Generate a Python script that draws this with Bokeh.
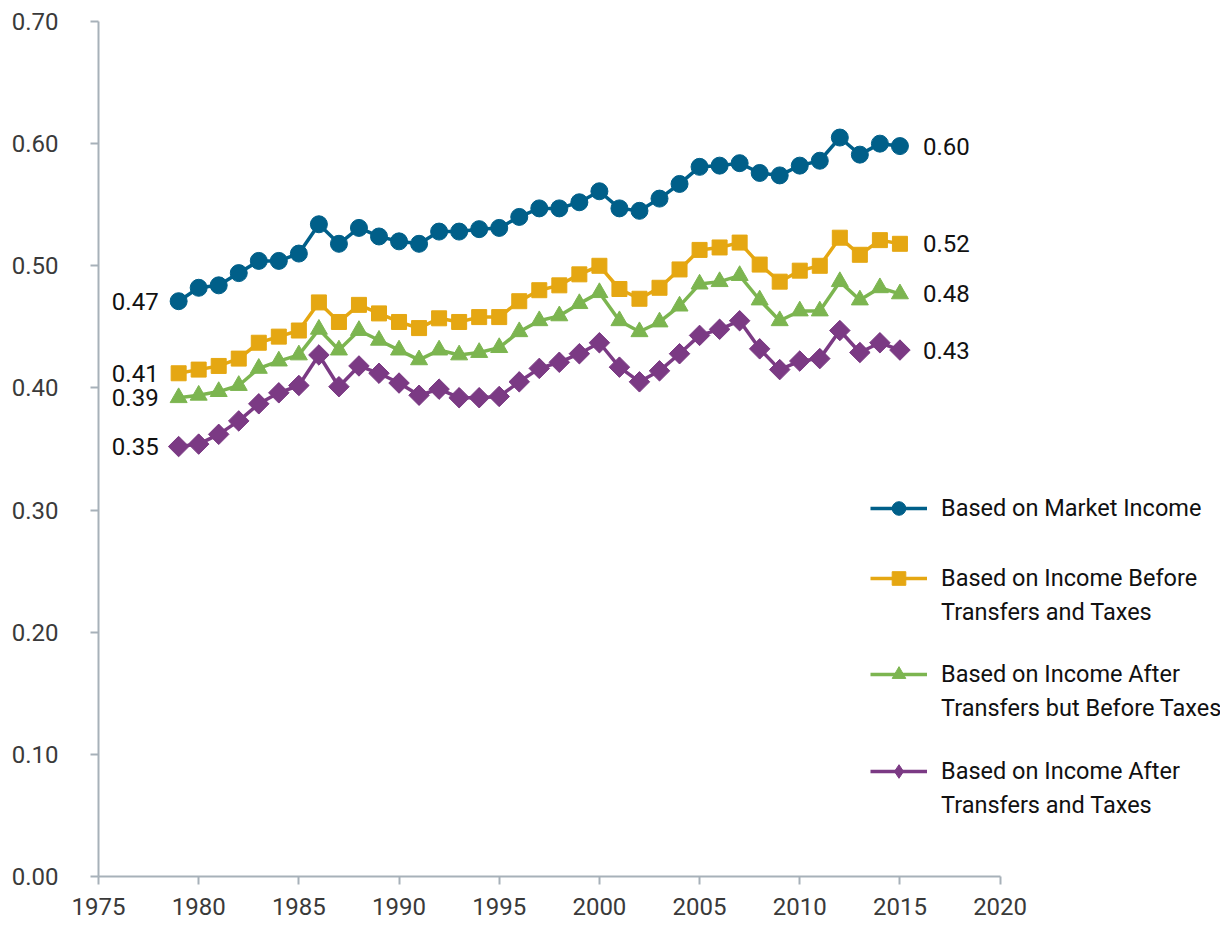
import numpy as np
from bokeh.plotting import figure
from bokeh.models import (Range1d, Legend, LegendItem, ColumnDataSource,
                          FixedTicker, NumeralTickFormatter)
from bokeh.core.properties import value
from bokeh.embed import file_html
from bokeh.resources import INLINE

years = list(range(1979, 2016))

market_income = [0.471, 0.482, 0.484, 0.494, 0.504, 0.504, 0.510, 0.534, 0.518, 0.531,
                 0.524, 0.520, 0.518, 0.528, 0.528, 0.530, 0.531, 0.540, 0.547, 0.547,
                 0.552, 0.561, 0.547, 0.545, 0.555, 0.567, 0.581, 0.582, 0.584, 0.576,
                 0.574, 0.582, 0.586, 0.605, 0.591, 0.600, 0.598]
before_transfers_taxes = [0.412, 0.415, 0.418, 0.424, 0.437, 0.442, 0.447, 0.470, 0.454, 0.468,
                          0.461, 0.454, 0.449, 0.457, 0.454, 0.458, 0.458, 0.471, 0.480, 0.484,
                          0.493, 0.500, 0.481, 0.473, 0.482, 0.497, 0.513, 0.515, 0.519, 0.501,
                          0.487, 0.496, 0.500, 0.523, 0.509, 0.521, 0.518]
after_transfers_before_taxes = [0.392, 0.394, 0.397, 0.402, 0.416, 0.422, 0.427, 0.448, 0.431, 0.447,
                                0.439, 0.431, 0.423, 0.431, 0.427, 0.429, 0.433, 0.446, 0.455, 0.459,
                                0.469, 0.478, 0.455, 0.446, 0.454, 0.467, 0.485, 0.487, 0.492, 0.472,
                                0.455, 0.463, 0.463, 0.487, 0.472, 0.482, 0.477]
after_transfers_taxes = [0.352, 0.354, 0.362, 0.373, 0.387, 0.396, 0.402, 0.427, 0.401, 0.418,
                         0.412, 0.404, 0.394, 0.399, 0.392, 0.392, 0.393, 0.405, 0.416, 0.421,
                         0.428, 0.437, 0.417, 0.405, 0.414, 0.428, 0.443, 0.448, 0.455, 0.432,
                         0.415, 0.422, 0.424, 0.447, 0.429, 0.437, 0.431]

series_names = [
    ("Based on Market Income", None),
    ("Based on Income Before", "Transfers and Taxes"),
    ("Based on Income After", "Transfers but Before Taxes"),
    ("Based on Income After", "Transfers and Taxes"),
]
x_ticks = [1975, 1980, 1985, 1990, 1995, 2000, 2005, 2010, 2015, 2020]
y_ticks = [0.0, 0.1, 0.2, 0.3, 0.4, 0.5, 0.6, 0.7]

colors = ["#005f89", "#e5a712", "#7cb550", "#7b3a84"]
markers = ["circle", "square", "triangle", "square"]
sizes = [17, 15, 17, 14.5]
angles = [0, 0, 0, np.pi / 4]

FONT = "Roboto"
AXIS_COLOR = "#a7b1b9"

p = figure(width=1228, height=926, output_backend="svg", toolbar_location=None,
           x_range=Range1d(1975, 2031), y_range=Range1d(0, 0.70),
           min_border_left=98, min_border_right=8, min_border_top=21, min_border_bottom=50)
p.outline_line_color = None
p.xgrid.visible = False
p.ygrid.visible = False
p.background_fill_color = "white"
p.border_fill_color = "white"

for ax in (p.xaxis[0], p.yaxis[0]):
    ax.axis_line_color = AXIS_COLOR
    ax.axis_line_width = 2
    ax.major_tick_line_color = AXIS_COLOR
    ax.major_tick_line_width = 2
    ax.major_tick_in = 0
    ax.major_tick_out = 8
    ax.minor_tick_line_color = None
    ax.major_label_text_font = FONT
    ax.major_label_text_font_size = "24px"
    ax.major_label_text_color = "#3a3a3a"

p.xaxis.ticker = FixedTicker(ticks=x_ticks)
p.xaxis.bounds = (1975, 2020)
p.xaxis.major_label_standoff = 13
p.yaxis.ticker = FixedTicker(ticks=y_ticks)
p.yaxis.formatter = NumeralTickFormatter(format="0.00")
p.yaxis.major_label_standoff = 32

all_series = [market_income, before_transfers_taxes, after_transfers_before_taxes, after_transfers_taxes]
legend_items_per_series = []
for vals, col, mk, sz, ang in zip(all_series, colors, markers, sizes, angles):
    src = ColumnDataSource(dict(x=years, y=vals))
    lr = p.line("x", "y", source=src, line_color=col, line_width=3.5)
    if ang:
        # diamond glyph (hidden beneath the rotated squares) that supplies the legend symbol
        leg_r = p.scatter("x", "y", source=src, marker="diamond", size=19,
                          fill_color=col, line_color=col)
    sr = p.scatter("x", "y", source=src, marker=mk, size=sz, angle=ang,
                   fill_color=col, line_color=col)
    if not ang:
        leg_r = sr
    legend_items_per_series.append([lr, leg_r])

# end-point labels
first_vals = [s[0] for s in all_series]
last_vals = [s[-1] for s in all_series]
left_src = ColumnDataSource(dict(x=[years[0]] * 4, y=first_vals,
                                 t=[f"{v:.2f}" for v in first_vals]))
right_src = ColumnDataSource(dict(x=[years[-1]] * 4, y=last_vals,
                                  t=[f"{v:.2f}" for v in last_vals]))
p.text("x", "y", text="t", source=left_src, x_offset=-20, text_align="right",
       text_baseline="middle", text_font=value(FONT), text_font_size="24px",
       text_color="#111111")
p.text("x", "y", text="t", source=right_src, x_offset=23, text_align="left",
       text_baseline="middle", text_font=value(FONT), text_font_size="24px",
       text_color="#111111")

# legends
dummy = p.line(x=[], y=[], line_alpha=0)
legend_y = [351, 247, 151, 54]
for (l1, l2), rends, ly in zip(series_names, legend_items_per_series, legend_y):
    items = [LegendItem(label=l1, renderers=rends)]
    if l2:
        items.append(LegendItem(label=l2, renderers=[dummy]))
    lg = Legend(items=items, location=(772, ly), padding=0, margin=0,
                border_line_alpha=0, background_fill_alpha=0,
                glyph_width=57, glyph_height=34, label_height=34, spacing=0,
                label_standoff=14, label_text_font=FONT, label_text_font_size="23.5px",
                label_text_color="#111111", label_text_baseline="middle")
    p.add_layout(lg, "center")

open("out.html", "w").write(file_html(p, INLINE))
